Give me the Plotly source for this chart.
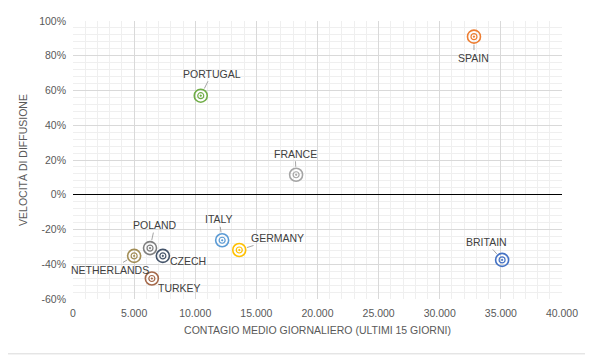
import plotly.graph_objects as go

countries = ["SPAIN", "PORTUGAL", "FRANCE", "ITALY", "GERMANY", "BRITAIN",
             "POLAND", "CZECH", "NETHERLANDS", "TURKEY"]
contagio = [32800, 10450, 18250, 12200, 13600, 35100, 6300, 7350, 5000, 6450]
velocita = [0.91, 0.57, 0.115, -0.262, -0.318, -0.375, -0.307, -0.352, -0.352, -0.482]
colors = ["#ED7D31", "#70AD47", "#A5A5A5", "#5B9BD5", "#FFC000", "#4472C4",
          "#7F7F7F", "#44546A", "#A28D55", "#A5694A"]
# label offsets in pixels (ax, ay) relative to point
label_dx = [0, 11, -1, -3, 38, -16, 5, 25, -24, 28]
label_dy = [21, -22, -21, -21, -12, -18, -23, 5, 14, 9]

x_ticks = [0, 5000, 10000, 15000, 20000, 25000, 30000, 35000, 40000]
x_ticklabels = ["0", "5.000", "10.000", "15.000", "20.000", "25.000", "30.000", "35.000", "40.000"]
y_ticks = [-0.6, -0.4, -0.2, 0, 0.2, 0.4, 0.6, 0.8, 1.0]
y_ticklabels = ["-60%", "-40%", "-20%", "0%", "20%", "40%", "60%", "80%", "100%"]

FONT = "Liberation Sans"
TXT = "#595959"

fig = go.Figure()
for c, x, y, col in zip(countries, contagio, velocita, colors):
    fig.add_trace(go.Scatter(x=[x], y=[y], mode="markers", name=c,
                             marker=dict(symbol="circle-open", size=13, color=col,
                                         line=dict(width=1.6, color=col)),
                             hoverinfo="skip", showlegend=False))
    fig.add_trace(go.Scatter(x=[x], y=[y], mode="markers", name=c,
                             marker=dict(symbol="circle-open-dot", size=6, color=col,
                                         line=dict(width=1.2, color=col)),
                             showlegend=False))

annotations = []
for c, x, y, dx, dy in zip(countries, contagio, velocita, label_dx, label_dy):
    annotations.append(dict(x=x, y=y, xref="x", yref="y", text=c, showarrow=True,
                            ax=dx, ay=dy, arrowhead=0, arrowwidth=1, arrowcolor="#A6A6A6",
                            standoff=8, font=dict(family=FONT, size=10.5, color="#404040")))

# page has 8px body margin: figure placed at (8,8)
fig.update_layout(
    width=585, height=350,
    margin=dict(l=65, r=31, t=7, b=59),
    paper_bgcolor="white", plot_bgcolor="white",
    font=dict(family=FONT, color=TXT, size=10.5),
    annotations=annotations,
    shapes=[
        dict(type="line", xref="paper", yref="paper",
             x0=517/489, x1=517/489, y0=-56/284, y1=1 + 7/284,
             line=dict(color="#D9D9D9", width=1), layer="below"),
        dict(type="line", xref="paper", yref="paper",
             x0=-65/489, x1=517/489, y0=-56/284, y1=-56/284,
             line=dict(color="#D9D9D9", width=1), layer="below"),
    ],
)
fig.update_xaxes(range=[0, 40000], tickvals=x_ticks, ticktext=x_ticklabels,
                 showgrid=True, gridcolor="#D9D9D9", gridwidth=1,
                 minor=dict(dtick=1000, showgrid=True, gridcolor="#EFEFEF"),
                 zeroline=False, showline=False, ticks="", ticklabelstandoff=6,
                 tickfont=dict(family=FONT, size=10.5, color=TXT),
                 title=dict(text="CONTAGIO MEDIO GIORNALIERO (ULTIMI 15 GIORNI)",
                            font=dict(family=FONT, size=10.5, color=TXT), standoff=9))
fig.update_yaxes(range=[-0.6, 1.0], tickvals=y_ticks, ticktext=y_ticklabels,
                 showgrid=True, gridcolor="#D9D9D9", gridwidth=1,
                 minor=dict(dtick=0.04, showgrid=True, gridcolor="#EFEFEF"),
                 zeroline=True, zerolinecolor="#000000", zerolinewidth=1.3,
                 showline=False, ticks="", ticklabelstandoff=6,
                 tickfont=dict(family=FONT, size=10.5, color=TXT),
                 title=dict(text="VELOCITÀ DI DIFFUSIONE",
                            font=dict(family=FONT, size=10.5, color=TXT), standoff=9))

fig.write_html("out.html")
